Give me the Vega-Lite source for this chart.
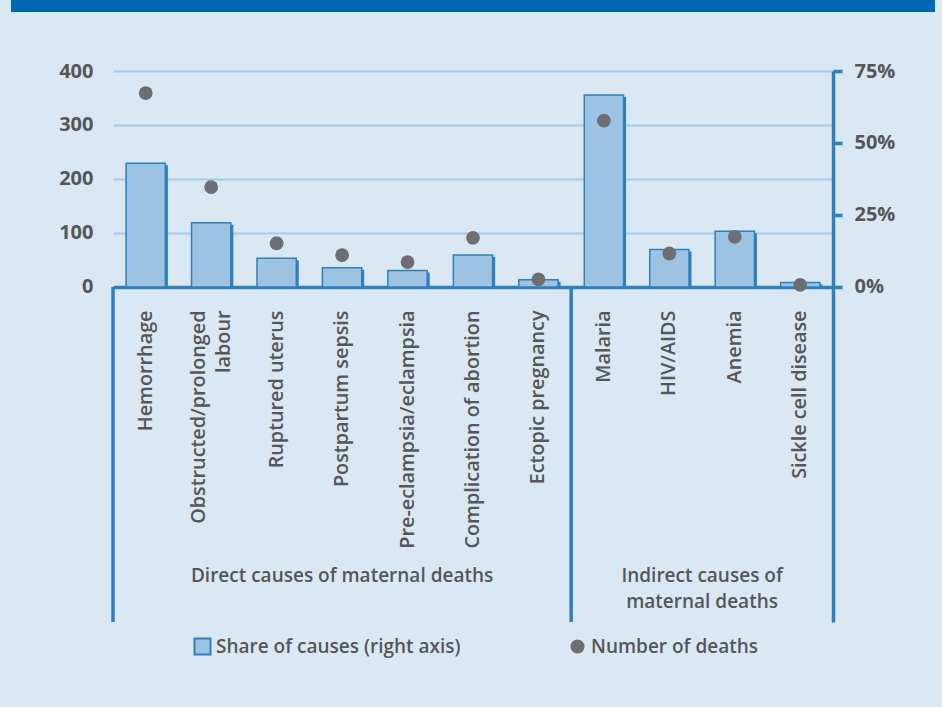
{
  "$schema": "https://vega.github.io/schema/vega-lite/v6.json",
  "background": "#dae8f3",
  "padding": {"left": 11, "top": 0, "right": 7, "bottom": 52},
  "bounds": "flush",
  "center": true,
  "spacing": 59,
  "config": {
    "view": {"stroke": null},
    "font": "Open Sans",
    "text": {"font": "Open Sans"}
  },
  "vconcat": [
    {
      "width": 924,
      "height": 12,
      "view": {"fill": "#0068b3", "stroke": null},
      "data": {"values": [{"banner": ""}]},
      "mark": {"type": "text"},
      "encoding": {"text": {"field": "banner", "type": "nominal"}}
    },
    {
      "width": 720,
      "height": 551,
      "data": {
        "values": [
          {"cause": "Hemorrhage", "share": 0.43, "deaths": 359},
          {"cause": "Obstructed/prolonged labour", "share": 0.223, "deaths": 185},
          {"cause": "Ruptured uterus", "share": 0.1, "deaths": 81},
          {"cause": "Postpartum sepsis", "share": 0.067, "deaths": 59},
          {"cause": "Pre-eclampsia/eclampsia", "share": 0.057, "deaths": 46},
          {"cause": "Complication of abortion", "share": 0.111, "deaths": 91},
          {"cause": "Ectopic pregnancy", "share": 0.025, "deaths": 14},
          {"cause": "Malaria", "share": 0.667, "deaths": 308},
          {"cause": "HIV/AIDS", "share": 0.13, "deaths": 62},
          {"cause": "Anemia", "share": 0.194, "deaths": 93},
          {"cause": "Sickle cell disease", "share": 0.016, "deaths": 4}
        ]
      },
      "resolve": {
        "scale": {"y": "independent", "fill": "independent"},
        "axis": {"y": "independent"},
        "legend": {"fill": "independent"}
      },
      "layer": [
        {
          "layer": [
            {
              "mark": {"type": "bar", "fill": "#2e7fc0", "xOffset": 2.5, "yOffset": 2},
              "encoding": {
                "x": {
                  "field": "cause", "type": "nominal", "sort": null,
                  "scale": {
                    "type": "band", "paddingInner": 0.4, "paddingOuter": 0.2,
                    "domain": ["Hemorrhage", "Obstructed/prolonged labour", "Ruptured uterus", "Postpartum sepsis", "Pre-eclampsia/eclampsia", "Complication of abortion", "Ectopic pregnancy", "Malaria", "HIV/AIDS", "Anemia", "Sickle cell disease"]
                  },
                  "axis": {
                    "title": null,
                    "orient": "bottom",
                    "offset": -335,
                    "domain": true,
                    "domainColor": "#2e7fc0",
                    "domainWidth": 3.5,
                    "ticks": false,
                    "grid": false,
                    "labelAngle": -90,
                    "labelPadding": 23,
                    "labelOffset": {"condition": {"test": "datum.value == 'Obstructed/prolonged labour'", "value": -12.5}, "value": 0},
                    "labelFont": "Open Sans",
                    "labelFontSize": 19.8,
                    "labelFontWeight": 600,
                    "labelColor": "#555658",
                    "labelLimit": 400,
                    "labelLineHeight": 25,
                    "labelExpr": "datum.value == 'Obstructed/prolonged labour' ? ['Obstructed/prolonged', 'labour'] : datum.label"
                  }
                },
                "y": {
                  "field": "share", "type": "quantitative",
                  "scale": {"domain": [-1.1632, 0.75], "nice": false, "zero": false},
                  "axis": {
                    "title": null,
                    "orient": "right",
                    "values": [0, 0.25, 0.5, 0.75],
                    "format": ".0%",
                    "grid": false,
                    "domainColor": "#2e7fc0",
                    "domainWidth": 3.5,
                    "tickColor": "#2e7fc0",
                    "tickWidth": 3.5,
                    "tickSize": 9,
                    "labelPadding": 12,
                    "labelFont": "Open Sans",
                    "labelFontSize": 20,
                    "labelFontWeight": 700,
                    "labelColor": "#555658"
                  }
                }
              }
            },
            {
              "mark": {"type": "bar", "stroke": "#2e7fc0", "strokeWidth": 1.5},
              "encoding": {
                "x": {
                  "field": "cause", "type": "nominal", "sort": null,
                  "scale": {
                    "type": "band", "paddingInner": 0.4, "paddingOuter": 0.2,
                    "domain": ["Hemorrhage", "Obstructed/prolonged labour", "Ruptured uterus", "Postpartum sepsis", "Pre-eclampsia/eclampsia", "Complication of abortion", "Ectopic pregnancy", "Malaria", "HIV/AIDS", "Anemia", "Sickle cell disease"]
                  }
                },
                "y": {
                  "field": "share", "type": "quantitative",
                  "scale": {"domain": [-1.1632, 0.75], "nice": false, "zero": false}
                },
                "fill": {
                  "datum": "Share of causes (right axis)", "type": "nominal",
                  "scale": {"domain": ["Share of causes (right axis)"], "range": ["#9dc3e3"]},
                  "legend": {
                    "title": null,
                    "orient": "none",
                    "legendX": 80,
                    "legendY": 566,
                    "symbolType": "square",
                    "symbolSize": 256,
                    "symbolStrokeColor": "#2e7fc0",
                    "symbolStrokeWidth": 2,
                    "symbolOpacity": 1,
                    "labelOffset": 4,
                    "labelFont": "Open Sans",
                    "labelFontSize": 19,
                    "labelFontWeight": 600,
                    "labelColor": "#555658",
                    "labelLimit": 400
                  }
                }
              }
            }
          ]
        },
        {
          "layer": [
            {
              "mark": {"type": "circle", "size": 190, "opacity": 1},
              "encoding": {
                "x": {
                  "field": "cause", "type": "nominal", "sort": null,
                  "scale": {
                    "type": "band", "paddingInner": 0.4, "paddingOuter": 0.2,
                    "domain": ["Hemorrhage", "Obstructed/prolonged labour", "Ruptured uterus", "Postpartum sepsis", "Pre-eclampsia/eclampsia", "Complication of abortion", "Ectopic pregnancy", "Malaria", "HIV/AIDS", "Anemia", "Sickle cell disease"]
                  }
                },
                "y": {
                  "field": "deaths", "type": "quantitative",
                  "scale": {"domain": [-620.4, 400], "nice": false, "zero": false},
                  "axis": {
                    "title": null,
                    "orient": "left",
                    "values": [0, 100, 200, 300, 400],
                    "grid": true,
                    "gridColor": "#a5c9e6",
                    "gridWidth": 2,
                    "domain": false,
                    "ticks": false,
                    "labelPadding": 20,
                    "labelFont": "Open Sans",
                    "labelFontSize": 20,
                    "labelFontWeight": 700,
                    "labelColor": "#555658"
                  }
                },
                "fill": {
                  "datum": "Number of deaths", "type": "nominal",
                  "scale": {"domain": ["Number of deaths"], "range": ["#6d6e71"]},
                  "legend": {
                    "title": null,
                    "orient": "none",
                    "legendX": 455,
                    "legendY": 566,
                    "symbolType": "circle",
                    "symbolSize": 200,
                    "symbolOpacity": 1,
                    "labelOffset": 4,
                    "labelFont": "Open Sans",
                    "labelFontSize": 19,
                    "labelFontWeight": 600,
                    "labelColor": "#555658",
                    "labelLimit": 400
                  }
                }
              }
            },
            {
              "data": {"values": [{"cause": "Hemorrhage"}, {"cause": "Malaria"}]},
              "mark": {"type": "rule", "color": "#2e7fc0", "strokeWidth": 3.5},
              "encoding": {
                "x": {
                  "field": "cause", "type": "nominal", "sort": null, "bandPosition": -0.3333,
                  "scale": {
                    "type": "band", "paddingInner": 0.4, "paddingOuter": 0.2,
                    "domain": ["Hemorrhage", "Obstructed/prolonged labour", "Ruptured uterus", "Postpartum sepsis", "Pre-eclampsia/eclampsia", "Complication of abortion", "Ectopic pregnancy", "Malaria", "HIV/AIDS", "Anemia", "Sickle cell disease"]
                  }
                },
                "y": {"datum": 0, "type": "quantitative", "scale": {"domain": [-620.4, 400], "nice": false, "zero": false}},
                "y2": {"datum": -620.4}
              }
            },
            {
              "data": {"values": [{"cause": "Postpartum sepsis", "group": "Direct causes of maternal deaths"}]},
              "mark": {"type": "text", "font": "Open Sans", "fontSize": 19, "fontWeight": 600, "color": "#555658", "align": "center", "baseline": "top", "lineHeight": 26, "lineBreak": "\n"},
              "encoding": {
                "x": {
                  "field": "cause", "type": "nominal", "sort": null, "bandPosition": 0.5,
                  "scale": {
                    "type": "band", "paddingInner": 0.4, "paddingOuter": 0.2,
                    "domain": ["Hemorrhage", "Obstructed/prolonged labour", "Ruptured uterus", "Postpartum sepsis", "Pre-eclampsia/eclampsia", "Complication of abortion", "Ectopic pregnancy", "Malaria", "HIV/AIDS", "Anemia", "Sickle cell disease"]
                  }
                },
                "y": {"datum": -518, "type": "quantitative", "scale": {"domain": [-620.4, 400], "nice": false, "zero": false}},
                "text": {"field": "group", "type": "nominal"}
              }
            },
            {
              "data": {"values": [{"cause": "HIV/AIDS", "group": "Indirect causes of\nmaternal deaths"}]},
              "mark": {"type": "text", "font": "Open Sans", "fontSize": 19, "fontWeight": 600, "color": "#555658", "align": "center", "baseline": "top", "lineHeight": 26, "lineBreak": "\n"},
              "encoding": {
                "x": {
                  "field": "cause", "type": "nominal", "sort": null, "bandPosition": 1.3333,
                  "scale": {
                    "type": "band", "paddingInner": 0.4, "paddingOuter": 0.2,
                    "domain": ["Hemorrhage", "Obstructed/prolonged labour", "Ruptured uterus", "Postpartum sepsis", "Pre-eclampsia/eclampsia", "Complication of abortion", "Ectopic pregnancy", "Malaria", "HIV/AIDS", "Anemia", "Sickle cell disease"]
                  }
                },
                "y": {"datum": -518, "type": "quantitative", "scale": {"domain": [-620.4, 400], "nice": false, "zero": false}},
                "text": {"field": "group", "type": "nominal"}
              }
            }
          ]
        }
      ]
    }
  ]
}
